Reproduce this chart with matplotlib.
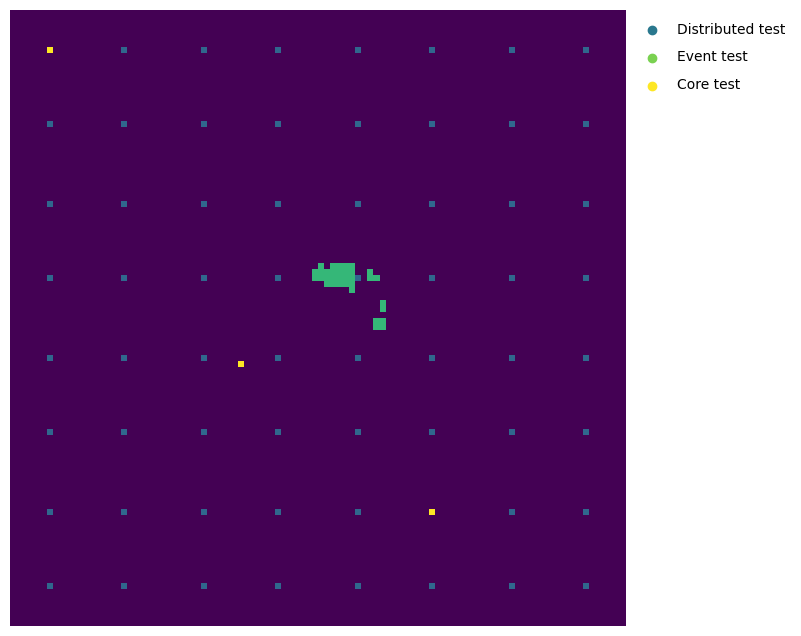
import numpy as np
import matplotlib.pyplot as plt

grid_size = 100

# sensor grid indices (same along both axes)
distributed_idx = [6, 18, 31, 43, 56, 68, 81, 93]

# core test cells as (col, row)
core_cells = [(6, 6), (37, 57), (68, 81)]

# event test cells as (row, first col, last col)
event_runs = [
    (41, 50, 50), (41, 52, 55),
    (42, 49, 55), (42, 58, 58),
    (43, 49, 55), (43, 58, 59),
    (44, 51, 55),
    (45, 55, 55),
    (47, 60, 60),
    (48, 60, 60),
    (50, 59, 60),
    (51, 59, 60),
]

labels = ["Distributed test", "Event test", "Core test"]

field = np.zeros((grid_size, grid_size))
for r, c0, c1 in event_runs:
    field[r, c0:c1 + 1] = 2
for r in distributed_idx:
    for c in distributed_idx:
        field[r, c] = 1
for c, r in core_cells:
    field[r, c] = 3

fig = plt.figure(figsize=(8.01, 6.36), dpi=100)
ax = fig.add_axes([10 / 801, 10 / 636, 616 / 801, 616 / 636])
ax.imshow(field, cmap="viridis", vmin=0, vmax=3, interpolation="nearest", aspect="auto")
ax.axis("off")

cmap = plt.get_cmap("viridis")
legend_colors = [cmap(0.4), cmap(0.8), cmap(1.0)]
handles = []
for lab, col in zip(labels, legend_colors):
    handles.append(ax.scatter([], [], color=col, s=36, label=lab))
ax.legend(handles=handles, loc="upper left", bbox_to_anchor=(1.0, 1.0),
          frameon=False, labelspacing=1.0, fontsize=10)

fig.savefig("out.png", dpi=100)
